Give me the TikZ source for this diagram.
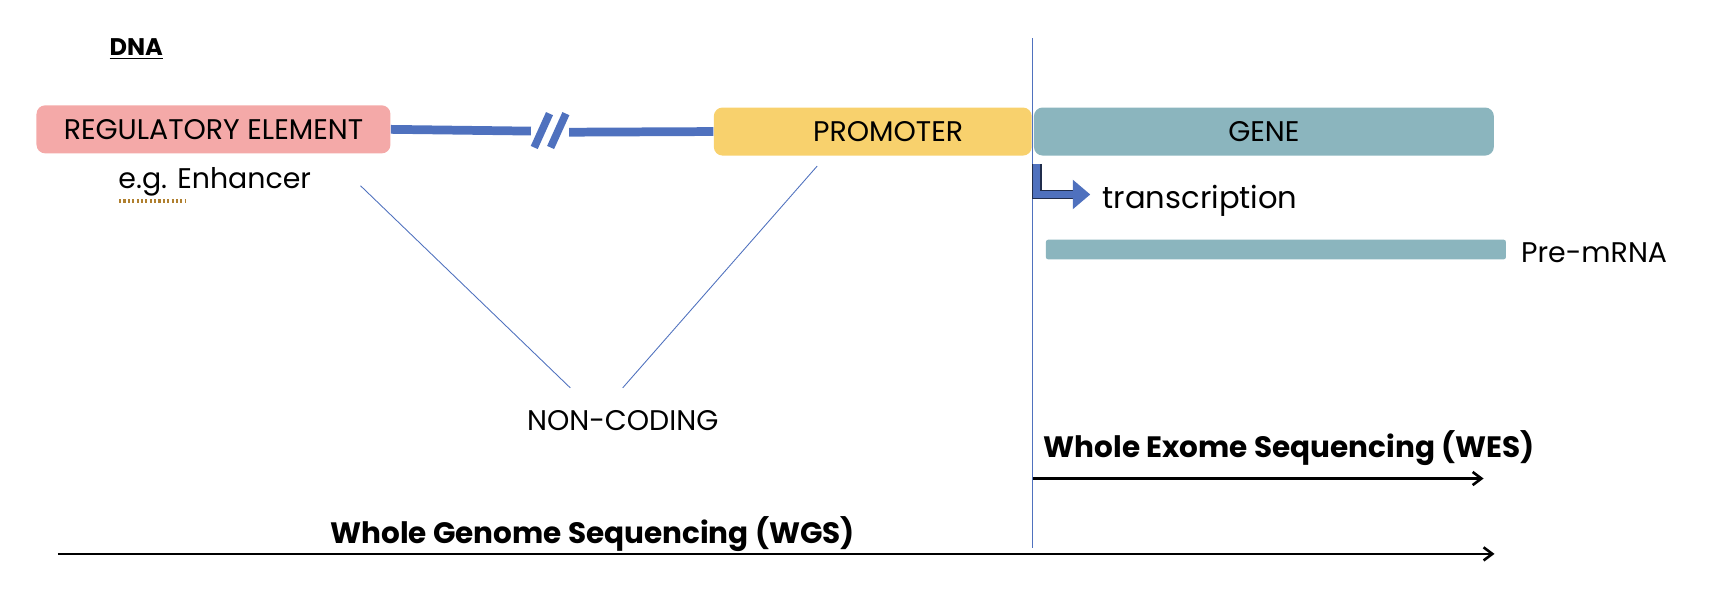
\documentclass[tikz,border=0pt]{standalone}
\usepackage{fontspec}
\setmainfont{Poppins}
\usetikzlibrary{arrows.meta}
\definecolor{pinkbox}{HTML}{F4A9A8}
\definecolor{yelbox}{HTML}{F8D16D}
\definecolor{genebox}{HTML}{8BB5BE}
\definecolor{dnablue}{HTML}{4F71BE}
\definecolor{dotbrown}{HTML}{B08030}
\begin{document}
\begin{tikzpicture}[x=0.5pt,y=-0.5pt,
  box/.style={rounded corners=4pt,inner sep=0pt,font=\fontsize{13}{15}\selectfont},
  lbl/.style={inner sep=0pt,anchor=west},
  thin/.style={dnablue,line width=0.4pt},
  seq/.style={black,line width=1.2pt,-{Straight Barb[length=4pt,width=6pt]}}]
\useasboundingbox (0,0) rectangle (1568,559);
% boxes
\node[box,fill=pinkbox,minimum width=162pt,minimum height=22pt,anchor=north west] (reg) at (33,96) {REGULATORY ELEMENT};
\node[box,fill=yelbox,minimum width=145.5pt,minimum height=22pt,anchor=north west] (prom) at (653,98) {\hspace{14pt}PROMOTER};
\node[box,fill=genebox,minimum width=210.5pt,minimum height=22pt,anchor=north west] (gene) at (946,98) {GENE};
% DNA line with break
\coordinate (b1) at (486,120);
\coordinate (b2) at (521,121);
\draw[dnablue,line width=4pt] (reg.east) -- (b1);
\draw[dnablue,line width=4pt] (b2) -- (prom.west);
\draw[dnablue,line width=3.5pt] (489,135) -- (503,104);
\draw[dnablue,line width=3.5pt] (504,135) -- (518,104);
% title
\node[lbl,font=\bfseries\fontsize{11}{13}\selectfont] (dna) at (100,45) {\underline{DNA}};
% enhancer
\node[lbl,font=\fontsize{13}{15}\selectfont] (enh) at (108,166) {e.g. Enhancer};
\draw[dotbrown,line width=1.5pt,dash pattern=on 1pt off 1pt] (109,184) -- (170,184);
% non-coding
\node[inner sep=0pt,font=\fontsize{13}{15}\selectfont] (nc) at (570,385) {NON-CODING};
\draw[thin] (330,170) -- (522,355);
\draw[thin] (748,152) -- (570,355);
% vertical line
\coordinate (vt) at (945,35);
\coordinate (vb) at (945,502);
\draw[thin] (vt) -- (vb);
% transcription arrow
\coordinate (ta) at (949,150);
\coordinate (tb) at (998,178);
\draw[black!60!dnablue,line width=4.4pt] (ta) -- (949,178) -- (985,178);
\draw[dnablue,line width=3pt,-{Triangle[length=8pt,width=13pt]}] (ta) |- (tb);
\node[lbl,font=\fontsize{14}{16}\selectfont] (tr) at (1009,184) {transcription};
% pre-mRNA
\node[fill=genebox,inner sep=0pt,minimum width=210.5pt,minimum height=9pt,anchor=north west,rounded corners=1pt] (pre) at (957,219) {};
\node[lbl,font=\fontsize{13}{15}\selectfont] (prel) at (1392,231) {Pre-mRNA};
% sequencing
\node[lbl,font=\bfseries\fontsize{13.5}{15}\selectfont] (wes) at (955,410) {Whole Exome Sequencing (WES)};
\coordinate (wes1) at (946,438);
\coordinate (wes2) at (1358,438);
\draw[seq] (wes1) -- (wes2);
\node[lbl,font=\bfseries\fontsize{13.5}{15}\selectfont] (wgs) at (302,489) {Whole Genome Sequencing (WGS)};
\coordinate (wgs1) at (53,507);
\coordinate (wgs2) at (1368,507);
\draw[seq] (wgs1) -- (wgs2);
\end{tikzpicture}
\end{document}
